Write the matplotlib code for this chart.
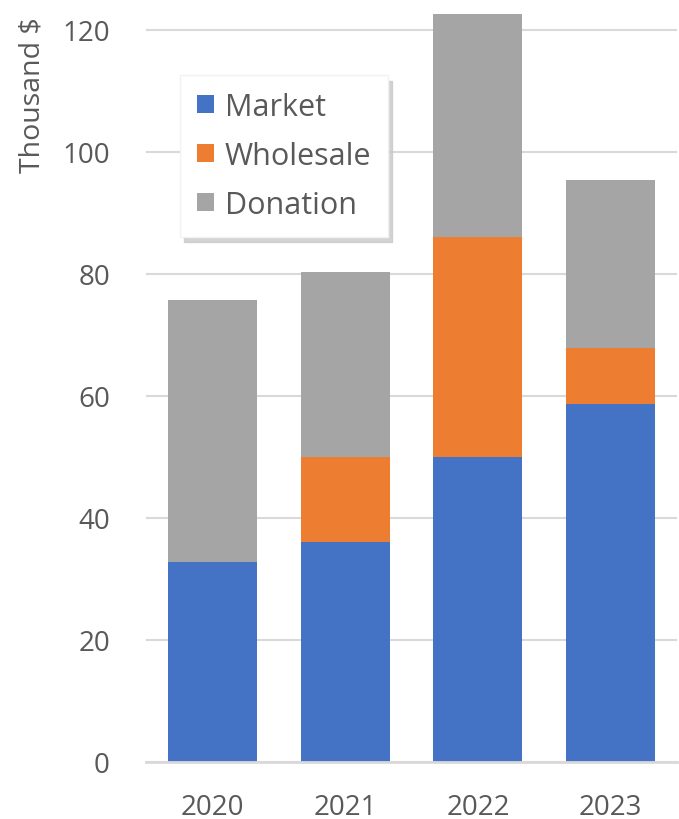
import matplotlib
matplotlib.use("Agg")
import matplotlib.pyplot as plt
import numpy as np

years = ["2020", "2021", "2022", "2023"]
market = [32.8, 36.0, 50.0, 58.7]
wholesale = [0.0, 14.0, 36.1, 9.2]
donation = [42.9, 30.3, 36.5, 27.5]

col_market = "#4472C4"
col_wholesale = "#ED7D31"
col_donation = "#A5A5A5"
txt = "#595959"

plt.rcParams['font.family'] = ['Open Sans', 'DejaVu Sans']

fig = plt.figure(figsize=(6.79, 8.2), dpi=100)
ax = fig.add_axes([146/679, 57/820, 531/679, 756/820])

x = np.arange(len(years))
w = 0.67
m = np.array(market)
wh = np.array(wholesale)
d = np.array(donation)
ax.bar(x, m, w, color=col_market, label="Market", zorder=3)
ax.bar(x, wh, w, bottom=m, color=col_wholesale, label="Wholesale", zorder=3)
ax.bar(x, d, w, bottom=m + wh, color=col_donation, label="Donation", zorder=3)

ax.set_xlim(-0.5, 3.5)
ax.set_ylim(0, 756/6.1)
ax.set_yticks(range(0, 121, 20))
ax.set_xticks(x)
ax.set_xticklabels(years)
ax.yaxis.grid(True, color="#D9D9D9", linewidth=1.5, zorder=0)
ax.set_axisbelow(True)
for s in ["top", "right", "left"]:
    ax.spines[s].set_visible(False)
ax.spines["bottom"].set_color("#D9D9D9")
ax.spines["bottom"].set_linewidth(2)
ax.spines["bottom"].set_zorder(4)
ax.tick_params(axis="both", length=0, labelsize=20, colors=txt)
ax.tick_params(axis="y", pad=26)
ax.tick_params(axis="x", pad=22)

fig.text(33/679, 1 - 95/820, "Thousand $", rotation=90, ha="center", va="center",
         fontsize=20.5, color=txt)

leg = ax.legend(loc="upper left", bbox_to_anchor=(180/679, 1 - 76/820),
                bbox_transform=fig.transFigure, fontsize=22, frameon=True,
                shadow={'ox': 3, 'oy': -4, 'color': '#C8C8C8', 'alpha': 0.8},
                fancybox=False, handlelength=0.56, handleheight=0.56,
                handletextpad=0.36, labelspacing=0.62, borderpad=0.55,
                borderaxespad=0)
leg.get_frame().set_edgecolor("#F2F2F2")
leg.get_frame().set_facecolor("white")
for t in leg.get_texts():
    t.set_color(txt)

fig.savefig("out.png", dpi=100)
